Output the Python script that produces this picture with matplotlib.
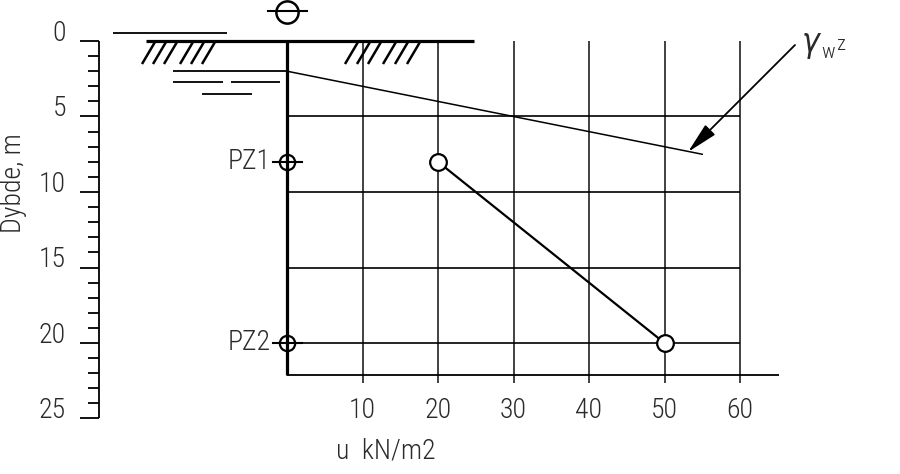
import matplotlib
matplotlib.use('Agg')
import matplotlib.pyplot as plt
from matplotlib import font_manager

# ---- data ----
depth_major = [0, 5, 10, 15, 20, 25]
depth_minor = list(range(0, 26))
u_ticks = [10, 20, 30, 40, 50, 60]
grid_depths = [5, 10, 15, 20]
pz_names = ['PZ1', 'PZ2']
pz_depth = [8, 20]
pz_u = [20, 50]
hydro_u = [0, 55]
hydro_depth = [2, 7.5]
gw_depth = 2
bottom_depth = 22.1
u_axis_end = 65.2

names = {f.name for f in font_manager.fontManager.ttflist}
chosen = None
for cand in ['Liberation Sans Narrow', 'Roboto Condensed', 'Open Sans Condensed',
             'Noto Sans Condensed', 'DejaVu Sans Condensed']:
    if cand in names:
        chosen = cand
        break
if chosen is None:
    chosen = 'Roboto' if 'Roboto' in names else 'DejaVu Sans'
plt.rcParams['font.family'] = [chosen, 'DejaVu Sans']
plt.rcParams['font.weight'] = 'light'
plt.rcParams['font.stretch'] = 'condensed'

# pixel -> data helpers for decorative drawing symbols
def U(px):
    return (px - 287) / 7.55

def D(py):
    return (py - 41) / 15.1

fig = plt.figure(figsize=(9, 4.74), dpi=100)
ax = fig.add_axes([0, 0, 1, 1])
ax.set_xlim(U(0), U(900))
ax.set_ylim(D(474), D(0))
ax.axis('off')

K = 'black'
TC = '#2a2a2a'
FS = 20

# depth ruler
ax.vlines(U(99), 0, 25, color=K, lw=1.3)
for d in depth_minor:
    x0 = U(80) if d in depth_major else U(88)
    ax.hlines(d, x0, U(99), color=K, lw=1.3)
for d in depth_major:
    ax.text(U(66), d - 0.5, str(d), ha='right', va='center', fontsize=FS, color=TC)
ax.text(U(14), D(183), 'Dybde, m', rotation=90, ha='center', va='center', fontsize=FS, color=TC)

# grid
ax.vlines(u_ticks, 0, D(383), color='#333333', lw=1.3)
ax.hlines(grid_depths, 0, 60, color=K, lw=1.2)
ax.hlines(bottom_depth, 0, u_axis_end, color=K, lw=1.3)
for u in u_ticks:
    ax.text(u, D(411), str(u), ha='center', va='center', fontsize=FS, color=TC)
ax.text(U(386), D(451), 'u  kN/m2', ha='center', va='center', fontsize=FS, color=TC)

# u = 0 axis and ground surface
ax.vlines(0, 0, bottom_depth, color=K, lw=2.3, zorder=3)
ax.hlines(0, U(146), U(474), color=K, lw=2.3, zorder=3)
ax.hlines(D(33), U(113), U(227), color=K, lw=1.3)
for x in [142, 153, 164, 180, 191, 202, 345, 357, 368, 383, 395, 407]:
    ax.plot([U(x), U(x + 13)], [D(64), D(42)], color=K, lw=1.8, solid_capstyle='butt')

# groundwater table symbol
ax.hlines(gw_depth, U(173), 0, color=K, lw=1.3)
ax.hlines(D(82), U(173), U(223), color=K, lw=1.3)
ax.hlines(D(82), U(231), U(280), color=K, lw=1.3)
ax.hlines(D(94), U(202), U(252), color=K, lw=1.3)

# top symbol
ax.plot([0], [D(12)], marker='o', ms=16, mfc='none', mec=K, mew=1.8, clip_on=False)
ax.plot([U(268), U(307)], [D(11), D(11)], color=K, lw=1.5)

# hydrostatic line
ax.plot(hydro_u, hydro_depth, color=K, lw=1.1)

# piezometers
for name, d in zip(pz_names, pz_depth):
    ax.plot([0], [d], marker='o', ms=11, mfc='none', mec=K, mew=1.6, zorder=4)
    ax.plot([U(273), U(302)], [d, d], color=K, lw=1.5, zorder=4)
    ax.text(U(271), d, name, ha='right', va='center', fontsize=FS, color=TC)

# measured pore pressures
ax.plot(pz_u, pz_depth, color=K, lw=1.6, marker='o', ms=12, mfc='white', mec=K, mew=1.6, zorder=5)

# label arrow
ax.annotate('', xy=(U(688), D(152)), xytext=(U(795), D(45)),
            arrowprops=dict(arrowstyle='-|>,head_length=1.9,head_width=0.42', color=K, lw=1.3,
                            shrinkA=0, shrinkB=0))
ax.text(U(812), D(45), r'$\gamma$', ha='center', va='center', fontsize=24, color=TC)
ax.text(U(828), D(52), 'w', ha='center', va='center', fontsize=15, color=TC)
ax.text(U(842), D(44), 'z', ha='center', va='center', fontsize=15, color=TC)

fig.savefig('out.png', dpi=100)
